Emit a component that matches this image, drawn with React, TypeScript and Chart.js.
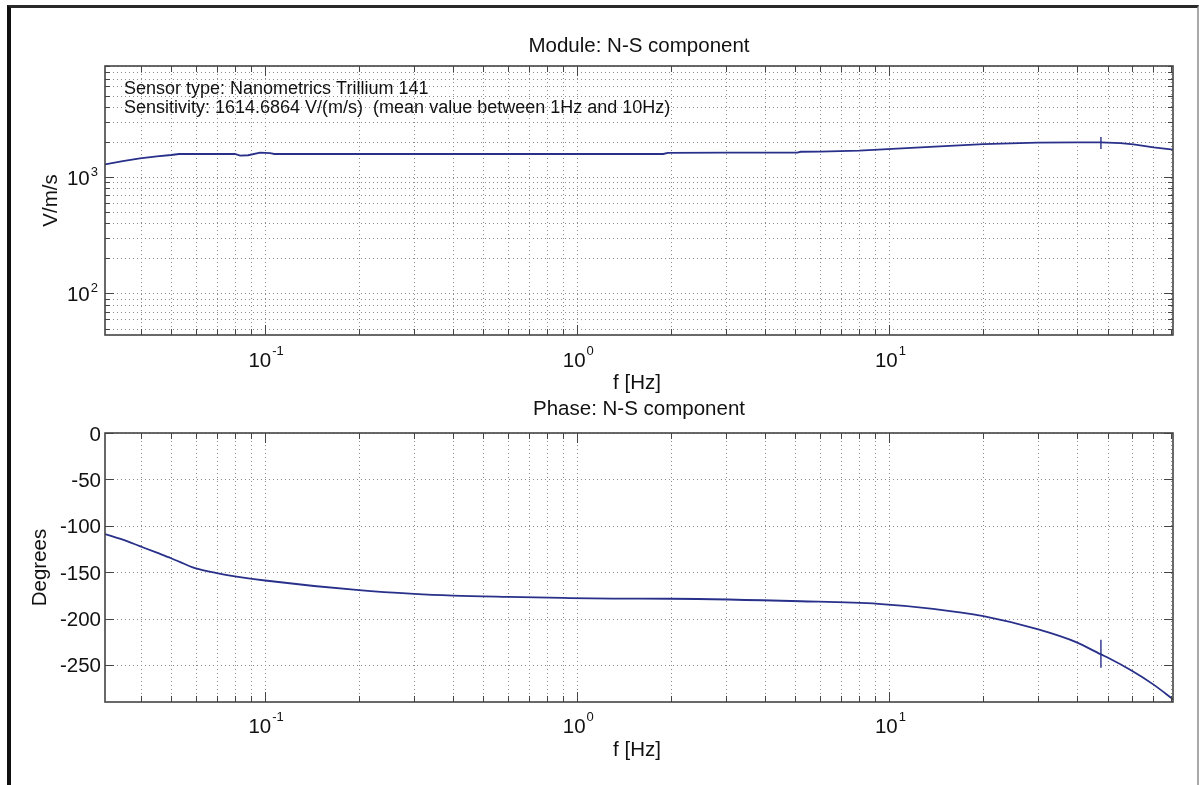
import React, { useEffect, useRef } from 'react';
import { Chart, registerables } from 'chart.js';

Chart.register(...registerables);

// ---------- data ----------
const MAG_FREQ = [0.0307, 0.035, 0.0397, 0.045, 0.05, 0.053, 0.08, 0.0832, 0.0882, 0.0964, 0.1038, 0.107, 0.5, 1.0, 1.886, 1.95, 3.0, 5.07, 5.2, 6.0, 8.0, 9.86, 13.5, 20, 29.8, 40, 47.5, 55, 60.5, 70.2, 81];
const MAG = [1286, 1370, 1449, 1505, 1548, 1579, 1579, 1527, 1540, 1620, 1605, 1579, 1579, 1579, 1579, 1615, 1620, 1620, 1650, 1655, 1690, 1740, 1820, 1920, 1980, 1990, 1985, 1960, 1910, 1800, 1720];

const PHASE_FREQ = [0.0307, 0.035, 0.0397, 0.045, 0.05, 0.055, 0.06, 0.07, 0.08, 0.1, 0.2, 0.3, 0.4, 0.6, 0.9, 1.3, 2, 5.2, 9.2, 13.8, 20, 30, 40, 47.6, 50, 60, 70, 81];
const PHASE = [-109, -115, -122, -129, -135, -141, -146, -151, -154.5, -159, -169.5, -173.5, -175.3, -176.7, -177.8, -178.5, -178.7, -181.4, -184.2, -189.6, -197.5, -211.8, -226, -238.7, -242, -256.6, -271, -287];

const MARK_FREQ = 47.6;
const MARK_MAG = 1965;
const MARK_PHASE = -238;

const X_MIN = 0.0307;
const X_MAX = 81;
const X_MAJOR = [0.1, 1, 10];
const X_EXP = ['-1', '0', '1'];
const X_MINOR = [0.04, 0.05, 0.06, 0.07, 0.08, 0.09, 0.2, 0.3, 0.4, 0.5, 0.6, 0.7, 0.8, 0.9, 2, 3, 4, 5, 6, 7, 8, 9, 20, 30, 40, 50, 60, 70, 80];

const MAG_MIN = 44;
const MAG_MAX = 9000;
const MAG_MAJOR = [100, 1000];
const MAG_EXP = ['2', '3'];
const MAG_MINOR = [50, 60, 70, 80, 90, 200, 300, 400, 500, 600, 700, 800, 900, 2000, 3000, 4000, 5000, 6000, 7000, 8000, 9000];

const PHASE_MIN = -290;
const PHASE_MAX = 0;
const PHASE_TICKS = [0, -50, -100, -150, -200, -250];

const TOP_TITLE = 'Module: N-S component';
const BOTTOM_TITLE = 'Phase: N-S component';
const X_TITLE = 'f [Hz]';
const TOP_Y_TITLE = 'V/m/s';
const BOTTOM_Y_TITLE = 'Degrees';
const INFO_LINES = [
  'Sensor type: Nanometrics Trillium 141',
  'Sensitivity: 1614.6864 V/(m/s)  (mean value between 1Hz and 10Hz)',
];

// ---------- style ----------
const FONT = '"Liberation Sans", Arial, Helvetica, sans-serif';
const LINE_COLOR = '#28308a';
const GRID_COLOR = '#8a8a8a';
const AXIS_COLOR = '#444444';
const TEXT_COLOR = '#111111';
const W = 1199;
const H = 785;

type DecorOpts = {
  xGrid: number[];
  yGrid: number[];
  yMajor: number[];
  yMinor: number[];
  yPow: string[] | null;
  yLabelRight: number;
  xLabelBaseline: number;
  title: string;
  titleBaseline: number;
  xTitleBaseline: number;
  yTitle: string;
  yTitleX: number;
  info: boolean;
};

function drawPow(ctx: CanvasRenderingContext2D, exp: string, x: number, baseline: number, expDy: number, align: 'center' | 'right') {
  ctx.font = `20.5px ${FONT}`;
  const w1 = ctx.measureText('10').width;
  ctx.font = `13px ${FONT}`;
  const w2 = ctx.measureText(exp).width;
  const total = w1 + 1 + w2;
  const start = align === 'center' ? x - total / 2 : x - total;
  ctx.textAlign = 'left';
  ctx.textBaseline = 'alphabetic';
  ctx.font = `20.5px ${FONT}`;
  ctx.fillText('10', start, baseline);
  ctx.font = `13px ${FONT}`;
  ctx.fillText(exp, start + w1 + 1, baseline + expDy);
}

function makeDecor(o: DecorOpts) {
  return {
    id: 'decor',
    beforeDatasetsDraw(chart: any) {
      const { ctx, chartArea: a, scales } = chart;
      const xs = scales.x;
      const ys = scales.y;
      ctx.save();
      ctx.strokeStyle = GRID_COLOR;
      ctx.lineWidth = 1;
      ctx.setLineDash([1, 3]);
      ctx.beginPath();
      for (const v of o.xGrid) {
        const p = Math.round(xs.getPixelForValue(v)) + 0.5;
        ctx.moveTo(p, a.top);
        ctx.lineTo(p, a.bottom);
      }
      for (const v of o.yGrid) {
        const p = Math.round(ys.getPixelForValue(v)) + 0.5;
        ctx.moveTo(a.left, p);
        ctx.lineTo(a.right, p);
      }
      ctx.stroke();
      ctx.restore();
    },
    afterDraw(chart: any) {
      const { ctx, chartArea: a, scales } = chart;
      const xs = scales.x;
      const ys = scales.y;
      ctx.save();
      // ticks
      ctx.strokeStyle = AXIS_COLOR;
      ctx.lineWidth = 1;
      ctx.beginPath();
      const xt = (v: number, len: number) => {
        const p = Math.round(xs.getPixelForValue(v)) + 0.5;
        ctx.moveTo(p, a.bottom);
        ctx.lineTo(p, a.bottom - len);
        ctx.moveTo(p, a.top);
        ctx.lineTo(p, a.top + len);
      };
      const yt = (v: number, len: number) => {
        const p = Math.round(ys.getPixelForValue(v)) + 0.5;
        ctx.moveTo(a.left, p);
        ctx.lineTo(a.left + len, p);
        ctx.moveTo(a.right, p);
        ctx.lineTo(a.right - len, p);
      };
      X_MAJOR.forEach((v) => xt(v, 10));
      X_MINOR.forEach((v) => xt(v, 6));
      o.yMajor.forEach((v) => yt(v, 9));
      o.yMinor.forEach((v) => yt(v, 5));
      ctx.stroke();
      // box
      ctx.lineWidth = 1.6;
      ctx.strokeRect(a.left, a.top, a.right - a.left, a.bottom - a.top);

      ctx.fillStyle = TEXT_COLOR;
      // x tick labels
      X_MAJOR.forEach((v, i) => {
        drawPow(ctx, X_EXP[i], xs.getPixelForValue(v) + 1, o.xLabelBaseline, -12, 'center');
      });
      // y tick labels
      if (o.yPow) {
        o.yMajor.forEach((v, i) => {
          const p = ys.getPixelForValue(v);
          drawPow(ctx, o.yPow![i], o.yLabelRight, p + 8, -9, 'right');
        });
      } else {
        ctx.font = `20.5px ${FONT}`;
        ctx.textAlign = 'right';
        ctx.textBaseline = 'alphabetic';
        o.yMajor.forEach((v) => {
          const p = ys.getPixelForValue(v);
          ctx.fillText(String(v), o.yLabelRight, p + 7.5);
        });
      }
      // titles
      const cx = (a.left + a.right) / 2;
      ctx.font = `20.5px ${FONT}`;
      ctx.textAlign = 'center';
      ctx.textBaseline = 'alphabetic';
      ctx.fillText(o.title, cx, o.titleBaseline);
      ctx.fillText(X_TITLE, cx - 2, o.xTitleBaseline);
      ctx.save();
      ctx.translate(o.yTitleX, (a.top + a.bottom) / 2);
      ctx.rotate(-Math.PI / 2);
      ctx.fillText(o.yTitle, 0, 0);
      ctx.restore();
      if (o.info) {
        ctx.font = `18px ${FONT}`;
        ctx.textAlign = 'left';
        ctx.fillText(INFO_LINES[0], 124, 93.5);
        ctx.fillText(INFO_LINES[1], 124, 112.5);
      }
      ctx.restore();
    },
  };
}

function makeConfig(
  freq: number[],
  vals: number[],
  markY: number,
  markR: number,
  yScale: any,
  padding: any,
  decor: DecorOpts,
  smooth: boolean
): any {
  return {
    type: 'scatter',
    data: {
      datasets: [
        {
          data: freq.map((f, i) => ({ x: f, y: vals[i] })),
          showLine: true,
          borderColor: LINE_COLOR,
          borderWidth: 1.8,
          pointRadius: 0,
          tension: 0,
          cubicInterpolationMode: smooth ? 'monotone' : 'default',
        },
        {
          data: [{ x: MARK_FREQ, y: markY }],
          showLine: false,
          pointStyle: 'line',
          pointRotation: 90,
          pointRadius: markR,
          pointBorderColor: LINE_COLOR,
          pointBorderWidth: 1.4,
          pointBackgroundColor: LINE_COLOR,
        },
      ],
    },
    options: {
      animation: false,
      responsive: false,
      events: [],
      layout: { padding },
      plugins: { legend: { display: false }, tooltip: { enabled: false } },
      scales: {
        x: { type: 'logarithmic', min: X_MIN, max: X_MAX, display: false },
        y: { ...yScale, display: false },
      },
    },
    plugins: [makeDecor(decor)],
  };
}

export default function App() {
  const topRef = useRef<HTMLCanvasElement | null>(null);
  const botRef = useRef<HTMLCanvasElement | null>(null);

  useEffect(() => {
    const c1 = new Chart(
      topRef.current!,
      makeConfig(
        MAG_FREQ,
        MAG,
        MARK_MAG,
        6,
        { type: 'logarithmic', min: MAG_MIN, max: MAG_MAX },
        { left: 105, top: 66, right: W - 1173, bottom: H - 335 },
        {
          xGrid: [...X_MAJOR, ...X_MINOR],
          yGrid: [...MAG_MAJOR, ...MAG_MINOR],
          yMajor: MAG_MAJOR,
          yMinor: MAG_MINOR,
          yPow: MAG_EXP,
          yLabelRight: 98,
          xLabelBaseline: 366.5,
          title: TOP_TITLE,
          titleBaseline: 52,
          xTitleBaseline: 389,
          yTitle: TOP_Y_TITLE,
          yTitleX: 57,
          info: true,
        },
        false
      )
    );
    const c2 = new Chart(
      botRef.current!,
      makeConfig(
        PHASE_FREQ,
        PHASE,
        MARK_PHASE,
        14,
        { type: 'linear', min: PHASE_MIN, max: PHASE_MAX },
        { left: 105, top: 433, right: W - 1173, bottom: H - 702 },
        {
          xGrid: [...X_MAJOR, ...X_MINOR],
          yGrid: PHASE_TICKS,
          yMajor: PHASE_TICKS,
          yMinor: [],
          yPow: null,
          yLabelRight: 101,
          xLabelBaseline: 733,
          title: BOTTOM_TITLE,
          titleBaseline: 415,
          xTitleBaseline: 756,
          yTitle: BOTTOM_Y_TITLE,
          yTitleX: 46,
          info: false,
        },
        true
      )
    );
    return () => {
      c1.destroy();
      c2.destroy();
    };
  }, []);

  const canvasStyle: React.CSSProperties = {
    position: 'absolute',
    left: 0,
    top: 0,
    width: W,
    height: H,
    display: 'block',
  };

  return (
    <div
      style={{
        position: 'fixed',
        left: 0,
        top: 0,
        width: W,
        height: H,
        overflow: 'hidden',
        background: '#ffffff',
      }}
    >
      <div
        style={{
          position: 'absolute',
          left: 7,
          top: 5,
          width: 1186,
          height: 900,
          borderLeft: '4px solid #111',
          borderTop: '3px solid #2a2a2a',
          borderRight: '2px solid #a8a8a8',
        }}
      />
      <canvas ref={topRef} width={W} height={H} style={canvasStyle} />
      <canvas ref={botRef} width={W} height={H} style={canvasStyle} />
    </div>
  );
}
